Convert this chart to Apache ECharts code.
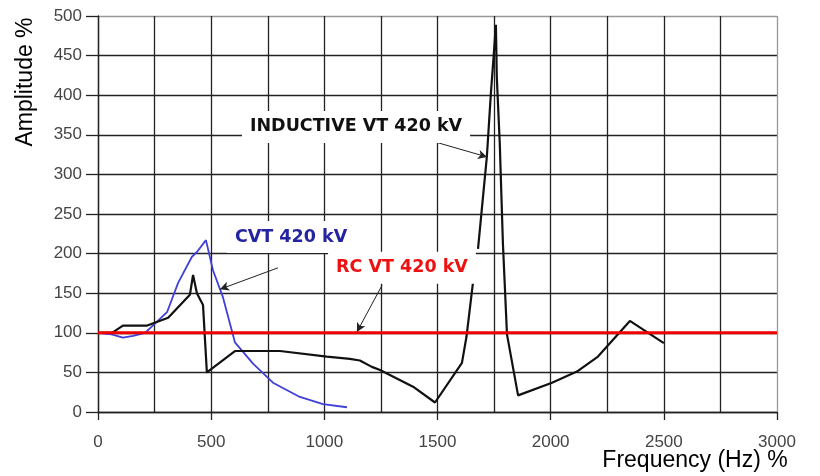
<!DOCTYPE html>
<html><head><meta charset="utf-8">
<script src="https://cdn.jsdelivr.net/npm/echarts@6/dist/echarts.min.js"></script>
<style>html,body{margin:0;padding:0;background:#fff}#c{width:820px;height:476px}</style>
</head><body><div id="c"></div>
<script>
// Inductive VT 420 kV: [frequency %, amplitude %]; null = gap in trace
var inductiveVT = [[0,100],[62,100],[110,109],[215,109],[310,119],[406,148],[420,173],[437,150],[464,135],[481,50],[605,77],[804,77],[1011,70],[1113,67],[1157,65],[1210,57],[1246,53],[1392,32],[1489,12],[1608,62],[1628,95],[1657,164],[1668,null],[1679,206],[1718,322],[1736,403],[1749,453],[1758,489],[1762,423],[1775,340],[1789,213],[1807,98],[1856,21],[2006,37],[2116,51],[2209,70],[2350,115],[2500,87]];
var cvt = [[0,100],[60,98],[110,94],[155,96],[208,100],[305,126],[354,163],[415,196],[437,202],[477,217],[508,179],[552,145],[605,88],[685,61],[773,37],[892,19],[994,10],[1100,6]];
var rcVT = [[0,100],[3000,100]];
var xTicks = [0,500,1000,1500,2000,2500,3000];
var yTicks = [0,50,100,150,200,250,300,350,400,450,500];
// annotation labels and arrows (data coordinates)
var labels = [
  {text:'INDUCTIVE VT 420 kV', at:[1140,360], color:'#111'},
  {text:'CVT 420 kV', at:[853,221], color:'#2424a0'},
  {text:'RC VT 420 kV', at:[1343,182], color:'#ee1111'}
];
var arrows = [
  [[1489,341],[1719,322]],
  [[795,182],[539,155]],
  [[1255,160],[1144,101]]
];

var chart = echarts.init(document.getElementById('c'));
var font = 'Liberation Sans, Arial, sans-serif';
var boldFont = 'DejaVu Sans, sans-serif';
var gridColors = yTicks.map(function(v,i){return i===yTicks.length-1?'#999':'#222';});
var xGridColors = xTicks.map(function(v,i){return i===xTicks.length-1?'#999':'#222';});
chart.setOption({
  animation:false,
  backgroundColor:'#fff',
  grid:{left:98,right:43,top:16,bottom:64,containLabel:false},
  xAxis:{type:'value',min:xTicks[0],max:xTicks[xTicks.length-1],interval:500,
    axisLine:{show:true,lineStyle:{color:'#222',width:1.3}},
    axisTick:{show:true,length:8,lineStyle:{color:'#222',width:1.3}},
    axisLabel:{color:'#444',fontSize:17,fontFamily:font,margin:22,formatter:function(v){return String(v);}},
    splitLine:{show:true,lineStyle:{color:xGridColors,width:1.3}},
    minorTick:{show:false,splitNumber:2},
    minorSplitLine:{show:true,lineStyle:{color:'#222',width:1.3}}
  },
  yAxis:{type:'value',min:yTicks[0],max:yTicks[yTicks.length-1],interval:50,
    axisLine:{show:true,lineStyle:{color:'#222',width:1.3}},
    axisTick:{show:true,length:12,lineStyle:{color:'#222',width:1.3}},
    axisLabel:{color:'#444',fontSize:17,fontFamily:font,margin:16,formatter:function(v){return String(v);}},
    splitLine:{show:true,lineStyle:{color:gridColors,width:1.3}}
  },
  graphic:[
    {type:'text',x:26,y:82,rotation:Math.PI/2,style:{text:'Amplitude %',font:'23px '+font,fill:'#000',align:'center',verticalAlign:'middle'}},
    {type:'text',x:695,y:461,style:{text:'Frequency (Hz) %',font:'23px '+font,fill:'#000',align:'center',verticalAlign:'middle'}}
  ],
  series:[
    {name:'CVT 420 kV',type:'line',data:cvt,showSymbol:false,symbol:'none',lineStyle:{color:'#4040d8',width:1.8},z:3},
    {name:'Inductive VT 420 kV',type:'line',data:inductiveVT,connectNulls:false,showSymbol:false,symbol:'none',lineStyle:{color:'#111',width:2.2},z:4},
    {name:'RC VT 420 kV',type:'line',data:rcVT,showSymbol:false,symbol:'none',lineStyle:{color:'#ee0000',width:3},z:5,
      markLine:{silent:true,symbol:['none','arrow'],symbolSize:[7,9],label:{show:false},
        lineStyle:{color:'#222',width:1,type:'solid'},
        data:arrows.map(function(a){return [{coord:a[0]},{coord:a[1]}];})},
      markPoint:{silent:true,symbol:'rect',symbolSize:1,itemStyle:{color:'rgba(0,0,0,0)'},
        data:labels.map(function(l){return {coord:l.at,value:l.text,label:{show:true,position:'inside',formatter:l.text,color:l.color,fontSize:17.5,fontWeight:'bold',fontFamily:boldFont,backgroundColor:'#fff',padding:[7,8]}};})}
    }
  ]
});
</script></body></html>
